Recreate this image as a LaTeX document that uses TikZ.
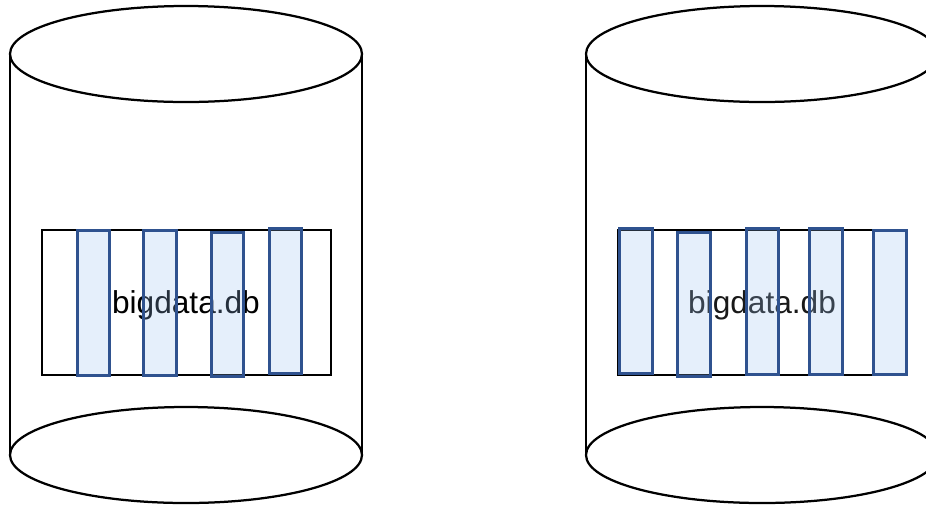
\documentclass[tikz,border=0pt]{standalone}
\usepackage{fontspec}
\setmainfont{Liberation Sans}
\usetikzlibrary{calc}
\definecolor{stripfill}{RGB}{150,190,240}
\definecolor{stripline}{RGB}{47,82,143}
\def\dbcylinder(#1,#2){%
  \draw[line width=0.45mm] (#1, 54) -- (#1, 455);
  \draw[line width=0.45mm] (#1+352, 54) -- (#1+352, 455);
  \draw[line width=0.45mm] (#1+176, 54) ellipse (176 and 48);
  \draw[line width=0.45mm] (#1+176, 455) ellipse (176 and 48);}
\tikzset{
  strip/.style={line width=0.6mm, draw=stripline, fill=stripfill, fill opacity=0.25},
  dbfile/.style={draw, line width=0.4mm, minimum width=5.8cm, minimum height=2.9cm,
    font=\fontsize{18}{22}\selectfont, inner sep=0pt}
}
\begin{document}
\begin{tikzpicture}[x=0.02cm, y=-0.02cm]
		%%%%% START %%%%%
		\useasboundingbox (0, 0) rectangle (926, 505);
		
		\dbcylinder(10,0)
		\dbcylinder(586,0)
		
		\draw[line width=0.4mm] (41.5, 230) rectangle (330.5, 375);
		\draw[line width=0.4mm] (617.5, 229.5) rectangle (906.5, 374.5);
		\node[font=\fontsize{18}{22}\selectfont] (leftdb) at (186, 305.5) {bigdata.db};
		\node[font=\fontsize{18}{22}\selectfont, text=black!90] (rightdb) at (762, 305) {bigdata.db};
		
		\draw[strip] (77, 230) rectangle (109, 375);
		\draw[strip] (143, 230) rectangle (176, 375);
		\draw[strip] (211, 232) rectangle (243, 376);
		\draw[strip] (269, 228) rectangle (301, 373);
		
		\draw[strip] (619, 228) rectangle (652, 373);
		\draw[strip] (677, 232) rectangle (710, 376);
		\draw[strip] (746, 228) rectangle (778, 374);
		\draw[strip] (809, 228) rectangle (842, 374);
		\draw[strip] (873, 230) rectangle (906, 374);
		
		%%%%% END %%%%%
	\end{tikzpicture}
\end{document}
